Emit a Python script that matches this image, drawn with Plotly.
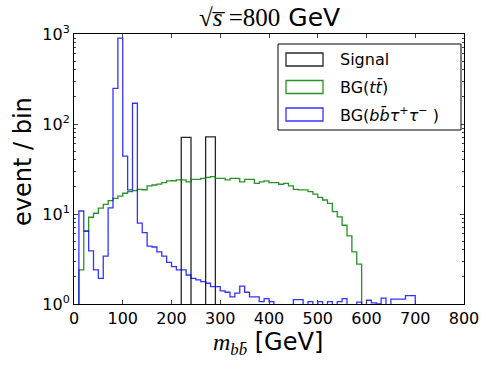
import plotly.graph_objects as go

# bins are 10 GeV wide
bin_width = 10

# background: b bbar tau+ tau-   (bins start at 0 GeV)
bbtt_start = 0
bbtt_vals = [0, 10.8, 6.5, 3.9, 2.4, 1.93, 3.4, 11.7, 249, 900,
             44, 18.5, 170, 7.9, 6.2, 4.4, 4.3, 3.8, 3.4, 2.9,
             2.6, 2.4, 2.4, 2.1, 1.93, 1.85, 1.77, 1.7, 1.56, 1.56,
             1.4, 1.35, 1.2, 1.32, 1.58, 1.35, 1.2, 1.2, 1.06, 1.15,
             1.06, 0, 0, 0, 0, 1.12, 1.12, 0, 1.06, 0,
             1.06, 0, 1.06, 0, 1.06, 1.15, 0, 0, 1.05, 0,
             1.1, 1.03, 1.0, 1.16, 0, 1.13, 1.13, 1.13, 1.24, 1.24]

# background: t tbar   (bins start at 0 GeV)
tt_start = 0
tt_vals = [0, 2.4, 6.4, 9.2, 10.2, 11.6, 12.8, 14.1, 14.9, 15.8,
           17.0, 17.7, 18.2, 18.8, 18.6, 20.5, 21.0, 21.5, 22.3, 23.3,
           23.4, 23.9, 23.9, 22.8, 24.3, 24.3, 24.9, 25.5, 26.0, 24.9,
           24.9, 23.9, 24.9, 24.9, 22.8, 24.3, 24.3, 21.9, 22.8, 23.3,
           22.3, 22.3, 21.4, 21.9, 20.5, 18.8, 18.5, 18.5, 17.7, 16.6,
           15.3, 14.3, 13.1, 10.6, 9.3, 7.5, 5.7, 3.8, 2.78]

# signal   (bins start at 220 GeV)
sig_start = 220
sig_vals = [71, 71, 0, 0, 0, 72, 72]

names = ["Signal", "BG(<i>tt̄</i>)", "BG(<i>bb̄τ</i><sup>+</sup><i>τ</i><sup>−</sup> )"]
colors = ["rgba(0,0,0,0.85)", "rgba(0,128,0,0.85)", "rgba(0,0,255,0.8)"]

xticks = list(range(0, 900, 100))
yticks = [1, 10, 100, 1000]
ytick_text = ["10<sup>0</sup>", "10<sup>1</sup>", "10<sup>2</sup>", "10<sup>3</sup>"]

FLOOR = 1e-3  # empty bins drawn down past the bottom of the log axis


def step_outline(start, vals):
    edges = [start + i * bin_width for i in range(len(vals) + 1)]
    ys = [v if v > 0 else FLOOR for v in vals]
    x = [edges[0]] + edges[:-1] + [edges[-1], edges[-1]]
    y = [FLOOR] + ys + [ys[-1], FLOOR]
    return x, y


fig = go.Figure()
for (start, vals), col in zip([(sig_start, sig_vals), (tt_start, tt_vals), (bbtt_start, bbtt_vals)], colors):
    x, y = step_outline(start, vals)
    fig.add_trace(go.Scatter(x=x, y=y, mode="lines", line=dict(color=col, width=1.3, shape="hv"),
                             showlegend=False))

# plot area in pixels
L, T = 74, 34
W, H = 390, 270
px = lambda v: (v - L) / W
py = lambda v: (T + H - v) / H

# hand made legend (matplotlib style rectangle patches)
shapes = [dict(type="rect", xref="paper", yref="paper", x0=px(278), x1=px(461), y0=py(130), y1=py(44),
               line=dict(color="black", width=1), fillcolor="white", layer="above")]
annotations = []
for i, (nm, col) in enumerate(zip(names, colors)):
    cy = 59.5 + i * 27.5
    shapes.append(dict(type="rect", xref="paper", yref="paper", x0=px(286), x1=px(323),
                       y0=py(cy + 6.5), y1=py(cy - 6.5), line=dict(color=col, width=1.3),
                       fillcolor="white", layer="above"))
    annotations.append(dict(text=nm, xref="paper", yref="paper", x=px(338), y=py(cy),
                            xanchor="left", yanchor="middle", showarrow=False,
                            font=dict(size=16, color="black")))

# titles
annotations.append(dict(text='<span style="font-family:Liberation Serif">√<i>s̅</i> =800</span> GeV',
                        xref="paper", yref="paper", x=px(269), y=py(18), xanchor="center", yanchor="middle",
                        showarrow=False, font=dict(size=25)))
annotations.append(dict(text='<span style="font-family:Liberation Serif"><i>m</i><sub><i>bb̄</i></sub></span> [GeV]',
                        xref="paper", yref="paper", x=px(268), y=py(343), xanchor="center", yanchor="middle",
                        showarrow=False, font=dict(size=24)))
annotations.append(dict(text="event / bin", textangle=-90,
                        xref="paper", yref="paper", x=px(23), y=py(162), xanchor="center", yanchor="middle",
                        showarrow=False, font=dict(size=24)))

fig.update_layout(
    width=491, height=368,
    margin=dict(l=L, r=491 - L - W, t=T, b=368 - T - H),
    paper_bgcolor="white", plot_bgcolor="white",
    font=dict(family="DejaVu Sans", size=16, color="black"),
    shapes=shapes, annotations=annotations,
)
fig.update_xaxes(range=[0, 800], tickvals=xticks, ticks="inside", ticklen=4, mirror="ticks",
                 showline=True, linecolor="black", linewidth=1, showgrid=False, zeroline=False,
                 tickfont=dict(size=16), automargin=False)
fig.update_yaxes(type="log", range=[0, 3], tickvals=yticks, ticktext=ytick_text,
                 ticks="inside", ticklen=4, mirror="ticks",
                 minor=dict(ticks="inside", ticklen=2, dtick="D1", showgrid=False),
                 showline=True, linecolor="black", linewidth=1, showgrid=False, zeroline=False,
                 tickfont=dict(size=16), automargin=False)

# drop the browser's default page margin so the figure sits at the top-left corner
fig.write_html("out.html", config={"displayModeBar": False},
               post_script="document.body.style.margin='0';")
